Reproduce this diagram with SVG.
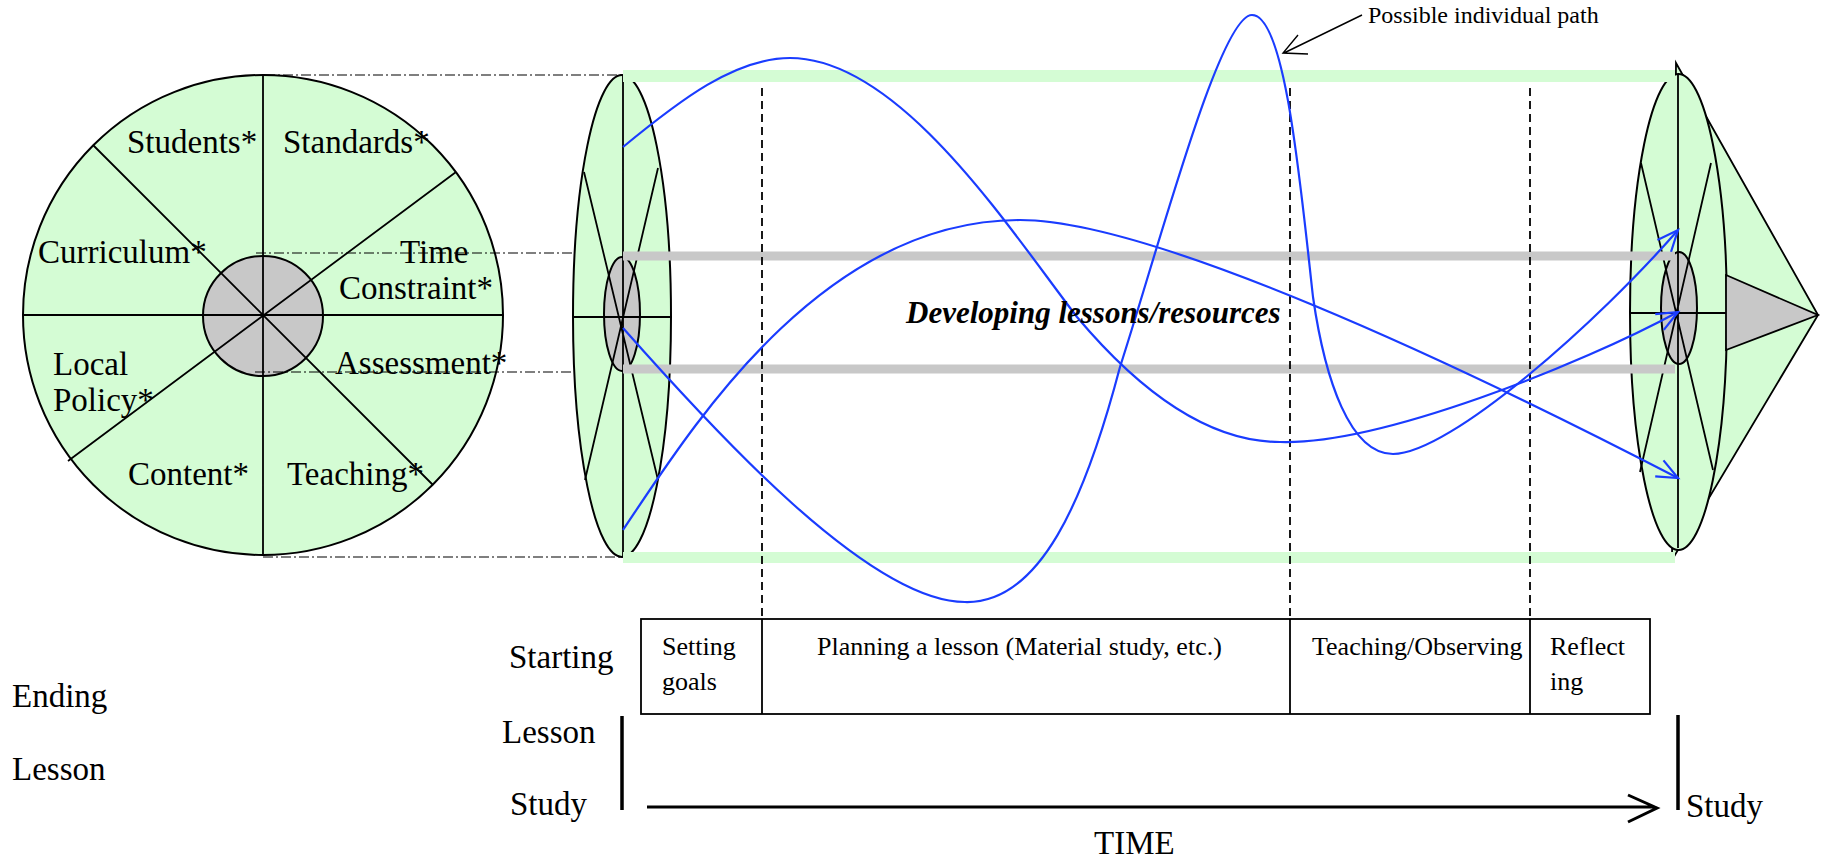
<svg xmlns="http://www.w3.org/2000/svg" width="1825" height="860" viewBox="0 0 1825 860">
<style>
.t{font-family:"Liberation Serif","Times New Roman",serif;fill:#000}
.lbl{font-size:33px}
.box{font-size:26px}
.small{font-size:24px}
.ln{stroke:#000;stroke-width:1.8;fill:none}
.green{fill:#d4fcd4}
.gray{fill:#c8c8c8}
.dd{stroke:#000;stroke-width:1.1;stroke-dasharray:10 3 2 3;fill:none}
.dash{stroke:#000;stroke-width:1.8;stroke-dasharray:8 5;fill:none}
.blue{stroke:#1a3cff;stroke-width:2.2;fill:none}
.bandg{stroke:#d4fcd4;fill:none}
.bandgr{stroke:#c8c8c8;stroke-width:9;fill:none}
.thick{stroke:#000;stroke-width:3.5;fill:none}
</style>
<defs>
<marker id="ah" markerUnits="userSpaceOnUse" markerWidth="30" markerHeight="30" refX="0" refY="0" orient="auto" overflow="visible">
<path d="M-21,-9 L0,0 L-21,9" fill="none" stroke="#1a3cff" stroke-width="2.2"/>
</marker>
</defs>
<rect width="1825" height="860" fill="#fff"/>

<g id="wheel">
<circle cx="263" cy="315" r="240" class="green" stroke="#000" stroke-width="2"/>
<circle cx="263" cy="316" r="60" class="gray" stroke="#000" stroke-width="2"/>
<path class="ln" d="M263,75V555 M23,315H503 M93,145L433,485 M456,172L68,461"/>
<text class="t lbl" x="127" y="153">Students*</text>
<text class="t lbl" x="283" y="153">Standards*</text>
<text class="t lbl" x="38" y="263">Curriculum*</text>
<text class="t lbl" x="400" y="263">Time</text>
<text class="t lbl" x="339" y="299">Constraint*</text>
<text class="t lbl" x="53" y="375">Local</text>
<text class="t lbl" x="53" y="411">Policy*</text>
<text class="t lbl" x="335" y="374">Assessment*</text>
<text class="t lbl" x="128" y="485">Content*</text>
<text class="t lbl" x="287" y="485">Teaching*</text>
</g>

<g id="projection-lines">
<path class="dd" d="M265,75H623 M256,253H623 M255,372H623 M263,557H623"/>
</g>

<g id="start-disc">
<ellipse cx="622" cy="316" rx="49" ry="241" class="green" stroke="#000" stroke-width="2"/>
<ellipse cx="622" cy="314" rx="18" ry="57" class="gray" stroke="#000" stroke-width="2"/>
<path class="ln" d="M623,75V557 M574,317H672 M584,172L658,480 M658,168L585,480"/>
</g>

<g id="end-disc">
<polygon points="1676,63 1818,315 1672,560" class="green" stroke="#000" stroke-width="1.8"/>
<ellipse cx="1678.5" cy="312" rx="48.5" ry="238" class="green" stroke="#000" stroke-width="2"/>
<ellipse cx="1679" cy="308" rx="18" ry="56" class="gray" stroke="#000" stroke-width="2"/>
<path class="ln" d="M1678,75V548 M1630,313H1727 M1641,163L1713,470 M1711,163L1640,472"/>
<polygon points="1726,275 1818,315 1726,350" class="gray" stroke="#000" stroke-width="1.8"/>
</g>

<g id="bands">
<path class="bandg" stroke-width="12" d="M623,76H1675"/>
<path class="bandg" stroke-width="11" d="M623,557.5H1675"/>
<path class="bandgr" d="M623,256H1675 M623,369H1675"/>
</g>

<g id="phase-dividers">
<path class="dash" d="M762,88V619 M1290,88V619 M1530,88V619"/>
</g>

<g id="stages">
<rect x="641" y="619" width="1009" height="95" fill="none" stroke="#000" stroke-width="1.8"/>
<path class="ln" d="M762,619V714 M1290,619V714 M1530,619V714"/>
<text class="t box" x="662" y="655">Setting</text>
<text class="t box" x="662" y="690">goals</text>
<text class="t box" x="817" y="655">Planning a lesson (Material study, etc.)</text>
<text class="t box" x="1312" y="655">Teaching/Observing</text>
<text class="t box" x="1550" y="655">Reflect</text>
<text class="t box" x="1550" y="690">ing</text>
</g>

<g id="connectors">
<path class="blue" marker-end="url(#ah)" d="M623,147 C680,100 735,58 790,58 C900,58 1010,230 1077,317 C1130,380 1200,442 1280,442 C1380,445 1580,365 1678,312"/>
<path class="blue" marker-end="url(#ah)" d="M623,530 C690,430 820,220 1020,220 C1150,220 1450,360 1678,478"/>
<path class="blue" marker-end="url(#ah)" d="M623,328 C715,432 870,602 965,602 C1040,604 1085,500 1120,367 C1160,243 1220,15 1252,15 C1285,15 1300,180 1313,297 C1325,380 1350,454 1393,454 C1450,454 1600,320 1678,230"/>
<path stroke="#000" stroke-width="1.4" fill="none" d="M1362,15L1284,53 M1298,35L1283,53L1308,54"/>
<path class="thick" d="M622,716V810 M1678,715V810"/>
<path stroke="#000" stroke-width="3" fill="none" d="M647,807H1655 M1628,795L1657,808L1628,822"/>
</g>

<g id="labels">
<text class="t small" x="1368" y="23">Possible individual path</text>
<text class="t" x="906" y="323" font-size="31" font-weight="bold" font-style="italic">Developing lessons/resources</text>
<text class="t lbl" x="509" y="668">Starting</text>
<text class="t lbl" x="12" y="707">Ending</text>
<text class="t lbl" x="12" y="780">Lesson</text>
<text class="t lbl" x="502" y="743">Lesson</text>
<text class="t lbl" x="510" y="815">Study</text>
<text class="t lbl" x="1686" y="817">Study</text>
<text class="t lbl" x="1094" y="854">TIME</text>
</g>
</svg>
